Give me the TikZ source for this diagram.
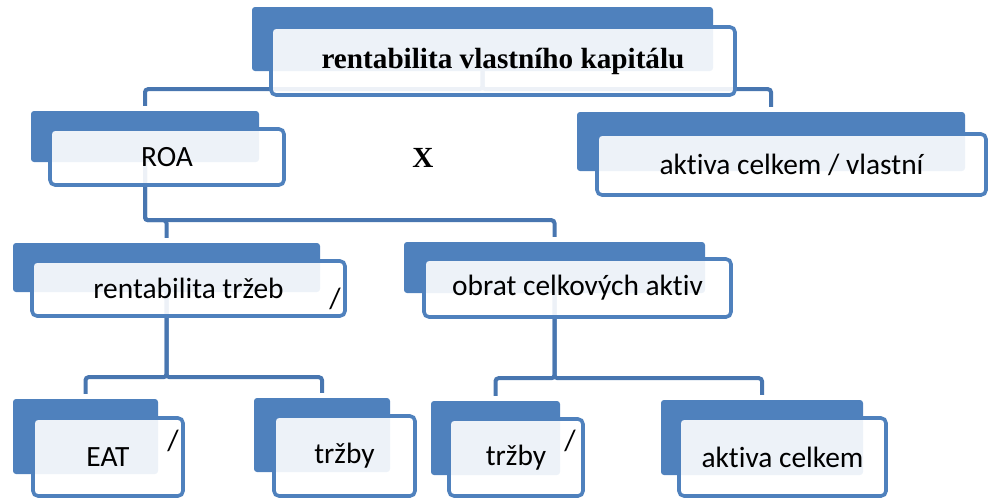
\documentclass[tikz,border=0pt]{standalone}
\usepackage{fontspec}
\setmainfont{Liberation Serif}
\newfontfamily\calibri{Carlito}[Ligatures=NoCommon]
\usetikzlibrary{backgrounds}
\definecolor{boxblue}{HTML}{4F81BD}
\definecolor{linkblue}{HTML}{4876B0}
\tikzset{
  backbox/.style={fill=boxblue, rounded corners=3pt, inner sep=0pt},
  frontbox/.style={draw=boxblue, line width=3.6pt, rounded corners=5pt, fill=white,
                   fill opacity=0.9, text opacity=1, inner sep=0pt, align=center,
                   font=\calibri\fontsize{29.4}{34}\selectfont},
  link/.style={draw=linkblue, line width=4pt, rounded corners=3pt, shorten >=5pt},
  sign/.style={inner sep=0pt, font=\calibri\fontsize{29.4}{34}\selectfont}
}

\begin{document}
\begin{tikzpicture}[x=1pt, y=-1pt]
    \useasboundingbox (0,0) rectangle (989,499);

    % level 0
    \node[backbox, minimum width=461, minimum height=64] (topB) at (482.5,39) {};
    \node[frontbox, minimum width=464, minimum height=68,
          font=\bfseries\fontsize{29.2}{34}\selectfont] (top) at (503,61) {rentabilita vlastního kapitálu};

    % level 1
    \node[backbox, minimum width=228, minimum height=51] (roaB) at (145,136.5) {};
    \node[frontbox, minimum width=234, minimum height=56] (roa) at (167,157) {ROA};
    \node[backbox, minimum width=388, minimum height=59] (akvB) at (771,141.5) {};
    \node[frontbox, minimum width=389, minimum height=61] (akv) at (791.5,164.5) {aktiva celkem / vlastní};
    \node[sign, font=\bfseries\fontsize{29.2}{34}\selectfont] (times) at (423,158) {X};

    % level 2
    \node[backbox, minimum width=307, minimum height=49] (rentB) at (166.5,267.5) {};
    \node[frontbox, minimum width=313, minimum height=55] (rent) at (188.5,288.5) {rentabilita tržeb};
    \node[sign] (div1) at (335,299) {/};
    \node[backbox, minimum width=301, minimum height=51] (obratB) at (554.5,267.5) {};
    \node[frontbox, minimum width=307, minimum height=58] (obrat) at (577.5,288) {obrat celkových aktiv};

    % level 3
    \node[backbox, minimum width=145, minimum height=75] (eatB) at (85.5,436.5) {};
    \node[frontbox, minimum width=150, minimum height=78] (eat) at (108,457) {EAT};
    \node[sign] (div2) at (173,441) {/};
    \node[backbox, minimum width=136, minimum height=74] (trz1B) at (322,435) {};
    \node[frontbox, minimum width=141, minimum height=80] (trz1) at (344.5,456) {tržby};
    \node[backbox, minimum width=129, minimum height=74] (trz2B) at (495.5,438) {};
    \node[frontbox, minimum width=134, minimum height=77] (trz2) at (516,457.5) {tržby};
    \node[sign] (div3) at (570,441) {/};
    \node[backbox, minimum width=202, minimum height=75] (akcB) at (762,437.5) {};
    \node[frontbox, minimum width=207, minimum height=78] (akc) at (782.5,457) {aktiva celkem};

    % connectors
    \begin{scope}[on background layer]
      \draw[link] (topB.south) -- ++(0,18) -| (roaB.north);
      \draw[link] (topB.south) -- ++(0,18) -| (akvB.north);
      \draw[link] (roaB.south) -- ++(0,58) -| (rentB.north);
      \draw[link] (roaB.south) -- ++(0,58) -| (obratB.north);
      \draw[link] (rentB.south) -- ++(0,85) -| (eatB.north);
      \draw[link] (rentB.south) -- ++(0,85) -| (trz1B.north);
      \draw[link] (obratB.south) -- ++(0,85) -| (trz2B.north);
      \draw[link] (obratB.south) -- ++(0,85) -| (akcB.north);
    \end{scope}
\end{tikzpicture}
\end{document}
